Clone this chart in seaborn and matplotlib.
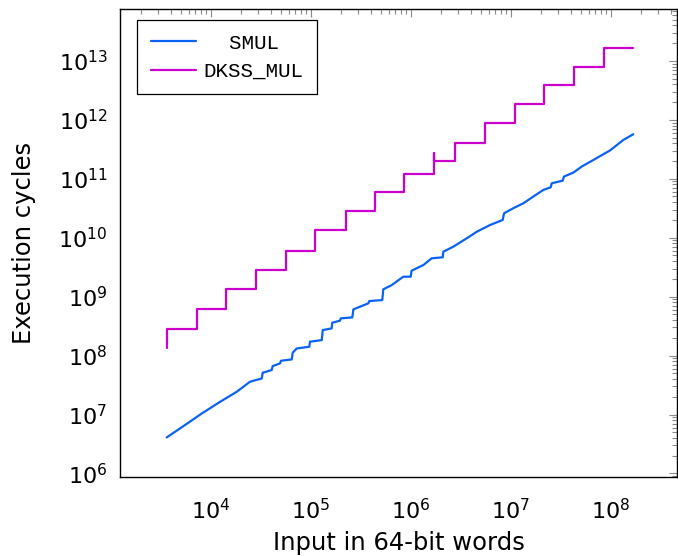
import numpy as np
import pandas as pd
import seaborn as sns
import matplotlib
matplotlib.use("Agg")
import matplotlib.pyplot as plt
from matplotlib.ticker import FixedLocator, NullFormatter, LogFormatterMathtext

# ---- data ----
smul_x = [3.63e3, 5.97e3, 8.13e3, 1.24e4, 1.82e4, 2.47e4, 3.24e4, 3.31e4, 4.07e4, 4.17e4,
          4.93e4, 5.05e4, 6.46e4, 6.61e4, 7.24e4, 9.68e4, 9.84e4, 1.29e5, 1.32e5, 1.62e5,
          1.64e5, 1.96e5, 2.00e5, 2.61e5, 2.67e5, 3.77e5, 3.85e5, 5.20e5, 5.32e5, 6.46e5,
          8.43e5, 1.00e6, 1.02e6, 1.34e6, 1.62e6, 2.09e6, 2.12e6, 2.67e6, 3.63e6, 4.57e6,
          6.21e6, 8.32e6, 8.57e6, 1.06e7, 1.34e7, 1.68e7, 2.12e7, 2.51e7, 2.57e7, 3.31e7,
          3.41e7, 4.23e7, 5.13e7, 6.70e7, 9.84e7, 1.34e8, 1.68e8]
smul_y = [4.08e6, 7.24e6, 1.04e7, 1.64e7, 2.43e7, 3.60e7, 4.09e7, 5.12e7, 5.68e7, 6.64e7,
          7.36e7, 8.17e7, 8.61e7, 1.12e8, 1.32e8, 1.41e8, 1.72e8, 1.83e8, 2.71e8, 2.89e8,
          3.61e8, 3.90e8, 4.28e8, 4.45e8, 6.08e8, 7.69e8, 8.41e8, 8.75e8, 1.33e9, 1.57e9,
          2.18e9, 2.18e9, 2.75e9, 3.44e9, 4.47e9, 4.65e9, 5.79e9, 7.05e9, 9.75e9, 1.26e10,
          1.64e10, 2.00e10, 2.59e10, 3.16e10, 3.84e10, 4.98e10, 6.46e10, 7.16e10, 8.37e10, 9.29e10,
          1.09e11, 1.27e11, 1.61e11, 2.08e11, 3.02e11, 4.56e11, 5.69e11]

dkss_x = [3.68e3, 3.68e3, 7.24e3, 7.24e3, 1.43e4, 1.43e4, 2.84e4, 2.84e4, 5.62e4, 5.62e4,
          1.10e5, 1.10e5, 2.24e5, 2.24e5, 4.40e5, 4.40e5, 8.63e5, 8.63e5, 1.72e6, 1.72e6,
          1.72e6, 2.75e6, 2.75e6, 5.57e6, 5.57e6, 1.10e7, 1.10e7, 2.15e7, 2.15e7, 4.33e7,
          4.33e7, 8.57e7, 8.57e7, 1.68e8]
dkss_y = [1.36e8, 2.79e8, 2.79e8, 6.15e8, 6.15e8, 1.33e9, 1.33e9, 2.83e9, 2.83e9, 6.01e9,
          6.01e9, 1.35e10, 1.35e10, 2.84e10, 2.84e10, 5.90e10, 5.90e10, 1.21e11, 1.21e11, 2.71e11,
          2.00e11, 2.00e11, 4.01e11, 4.01e11, 8.75e11, 8.75e11, 1.88e12, 1.88e12, 3.92e12, 3.92e12,
          8.00e12, 8.00e12, 1.64e13, 1.64e13]

series_names = ["  SMUL", "DKSS_MUL"]
series_colors = ["#0a62f5", "#cc00cc"]
x_label = "Input in 64-bit words"
y_label = "Execution cycles"
x_major = [1e4, 1e5, 1e6, 1e7, 1e8]
y_major = [1e6, 1e7, 1e8, 1e9, 1e10, 1e11, 1e12, 1e13]

df_smul = pd.DataFrame({"x": smul_x, "y": smul_y, "series": series_names[0]})
df_dkss = pd.DataFrame({"x": dkss_x, "y": dkss_y, "series": series_names[1]})

sns.set_theme(style="white")
plt.rcParams["font.family"] = ["DejaVu Sans"]
plt.rcParams["mathtext.fontset"] = "dejavusans"
plt.rcParams["text.color"] = "black"
plt.rcParams["axes.labelcolor"] = "black"

fig = plt.figure(figsize=(6.78, 5.56), dpi=100)
ax = fig.add_axes([120 / 678, 1 - 477 / 556, (677 - 120) / 678, (477 - 9) / 556])

sns.lineplot(data=df_smul, x="x", y="y", ax=ax, sort=False, estimator=None,
             color=series_colors[0], linewidth=1.6, label=series_names[0])
sns.lineplot(data=df_dkss, x="x", y="y", ax=ax, sort=False, estimator=None,
             color=series_colors[1], linewidth=1.6, label=series_names[1])

ax.set_xscale("log")
ax.set_yscale("log")
xlo, xhi = 10 ** 3.093, 10 ** 8.663
ylo, yhi = 10 ** 5.94, 10 ** 13.88
ax.set_xlim(xlo, xhi)
ax.set_ylim(ylo, yhi)

def minors(lo, hi):
    out = []
    for e in range(int(np.floor(np.log10(lo))), int(np.ceil(np.log10(hi))) + 1):
        for s in range(2, 10):
            v = s * 10.0 ** e
            if lo <= v <= hi:
                out.append(v)
    return out

ax.xaxis.set_major_locator(FixedLocator(x_major))
ax.yaxis.set_major_locator(FixedLocator(y_major))
ax.xaxis.set_minor_locator(FixedLocator(minors(xlo, xhi)))
ax.yaxis.set_minor_locator(FixedLocator(minors(ylo, yhi)))
ax.xaxis.set_major_formatter(LogFormatterMathtext())
ax.yaxis.set_major_formatter(LogFormatterMathtext())
ax.xaxis.set_minor_formatter(NullFormatter())
ax.yaxis.set_minor_formatter(NullFormatter())

ax.tick_params(which="both", direction="in", top=True, right=True, color="#8a8a8a",
               width=0.8, labelsize=16, labelcolor="black")
ax.tick_params(which="major", length=6)
ax.tick_params(which="minor", length=3.5)
ax.tick_params(axis="x", which="both", pad=15)
ax.tick_params(axis="y", which="both", pad=9)

for sp in ax.spines.values():
    sp.set_visible(True)
    sp.set_color("black")
    sp.set_linewidth(1.0)

ax.set_xlabel(x_label, fontsize=17.5, labelpad=6, color="black")
ax.set_ylabel(y_label, fontsize=17.5, labelpad=16, color="black")

leg = ax.legend(loc="upper left", bbox_to_anchor=(17 / 557, 1 - 11 / 468), borderaxespad=0,
                frameon=True, fancybox=False,
                edgecolor="black", framealpha=1, handlelength=2.2, handletextpad=0.35,
                borderpad=0.65, labelspacing=0.45,
                prop={"family": "Liberation Mono", "size": 15})
leg.get_frame().set_linewidth(0.9)
for t in leg.get_texts():
    t.set_color("black")

fig.savefig("out.png", dpi=100)
